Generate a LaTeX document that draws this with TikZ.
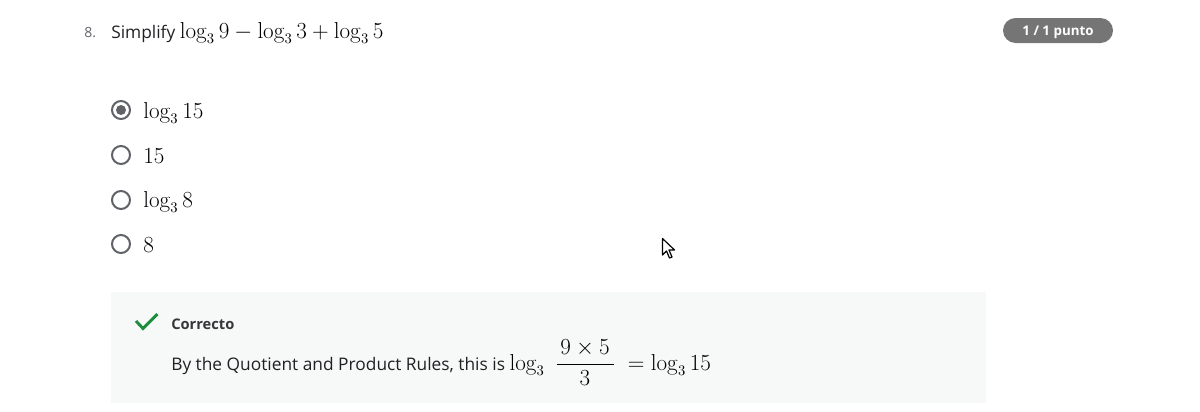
\documentclass[tikz,border=0pt]{standalone}
\usepackage{amsmath,amssymb}
\usepackage[no-math]{fontspec}
\setsansfont{Open Sans}
\usepackage{tikz}
\usetikzlibrary{positioning}

\definecolor{txtgray}{HTML}{202124}
\definecolor{radiogray}{HTML}{5F6368}
\definecolor{badgegray}{HTML}{757575}
\definecolor{feedbackbg}{HTML}{F6F9F8}
\definecolor{okgreen}{HTML}{1E8E3E}

\newcommand{\mathsize}{\fontsize{16.2}{19}\selectfont}

\begin{document}
\begin{tikzpicture}
		[
		x = 0.75pt, y = -0.75pt,
		every node/.style = {inner sep = 0pt, text = txtgray},
		sans/.style = {font = \sffamily\fontsize{13}{15}\selectfont},
		mathtxt/.style = {font = \mathsize, text = black},
		radiobtn/.style = {circle, draw = radiogray, line width = 1.5pt, minimum size = 13.5pt},
		answer/.style = {anchor = base west, mathtxt}
		]
		\useasboundingbox (0,0) rectangle (1200,411);
		
		% question line
		\node [anchor = base west, font = \sffamily\fontsize{10.5}{12}\selectfont, text = radiogray] (num) at (84,37) {8.};
		\node [anchor = base west, sans] (question) at (111,38)
			{Simplify {\mathsize\color{black} $\log_3 9 - \log_3 3 + \log_3 5$}};
		\fill [badgegray, rounded corners = 9.375pt] (1003,18) rectangle (1113,43);
		\node [anchor = base, text = white, font = \sffamily\bfseries\fontsize{10}{12}\selectfont] (score) at (1058,35) {1 / 1 punto};
		
		% options
		\node [radiobtn] (radio1) at (121,110) {};
		\node [circle, fill = radiogray, minimum size = 7.5pt] (dot1) at (radio1.center) {};
		\node [radiobtn] (radio2) at (121,155) {};
		\node [radiobtn] (radio3) at (121,200) {};
		\node [radiobtn] (radio4) at (121,244) {};
		\node [answer] (opt1) at (143,118) {$\log_3 15$};
		\node [answer] (opt2) at (143,163) {$15$};
		\node [answer] (opt3) at (143,207.5) {$\log_3 8$};
		\node [answer] (opt4) at (143,252) {$8$};
		
		% mouse pointer
		\draw [fill = white, line width = 0.9pt, line join = round]
			(662.5,238.5) -- (662.5,255) -- (666.5,251) -- (669.5,258) -- (672,257) -- (669,250) -- (674.5,250) -- cycle;
		
		% feedback
		\fill [feedbackbg] (111,292) rectangle (986,403);
		\draw [okgreen, line width = 2.2pt] (136,321) -- (143,328.5) -- (157.5,314);
		\node [anchor = base west, font = \sffamily\bfseries\fontsize{11}{13}\selectfont, text = txtgray!90] (verdict) at (171,329) {Correcto};
		\node [anchor = base west, sans] (explain) at (171,370)
			{By the Quotient and Product Rules, this is {\mathsize\color{black} $\log_3 \;\dfrac{\,9\times 5\,}{3}\; = \log_3 15$}};
		
		\end{tikzpicture}
\end{document}
